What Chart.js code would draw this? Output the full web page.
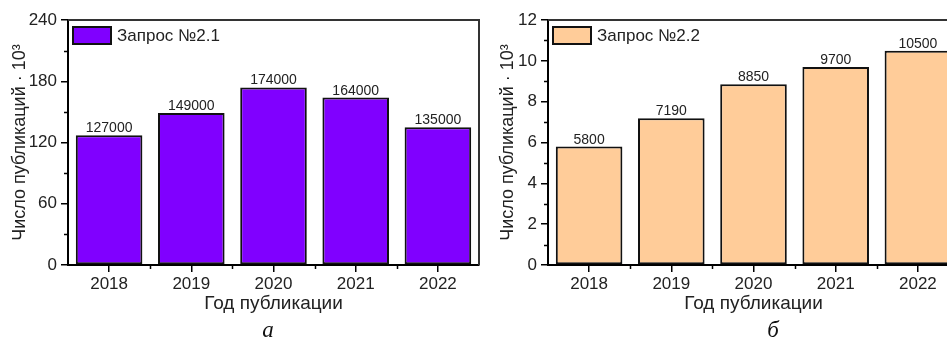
<!DOCTYPE html>
<html>
<head>
<meta charset="utf-8">
<script src="https://cdn.jsdelivr.net/npm/chart.js@4.4.0/dist/chart.umd.min.js"></script>
<style>
    html, body { margin: 0; padding: 0; background: #fff; overflow: hidden; width: 947px; height: 345px; }
    .panel { position: absolute; top: 0; width: 490px; height: 345px; }
    #panel_a { left: 0; }
    #panel_b { left: 480px; }
</style>
</head>
<body>
<div class="panel" id="panel_a"><canvas id="chart_a" width="490" height="345"></canvas></div>
<div class="panel" id="panel_b"><canvas id="chart_b" width="490" height="345"></canvas></div>
<script>
// data
const years = ["2018", "2019", "2020", "2021", "2022"];
const pubs_query21 = [127000, 149000, 174000, 164000, 135000];
const pubs_query22 = [5800, 7190, 8850, 9700, 10500];
const y_ticks_21 = [0, 60, 120, 180, 240];
const y_ticks_22 = [0, 2, 4, 6, 8, 10, 12];

const font_family = "Arial, 'Liberation Sans', sans-serif";
const text_color = "#222";

// frame, minor ticks, legend, value labels, panel letter
const decor_plugin = {
    id: "decor",
    afterDatasetsDraw(chart, args, opts) {
        const ctx = chart.ctx;
        const meta = chart.getDatasetMeta(0);
        ctx.save();
        ctx.fillStyle = text_color;
        ctx.font = "14px " + font_family;
        ctx.textAlign = "center";
        ctx.textBaseline = "alphabetic";
        meta.data.forEach(function (bar, i) {
            ctx.fillText(String(opts.labels[i]), bar.x, bar.y - 3);
        });
        ctx.restore();
    },
    afterDraw(chart, args, opts) {
        const ctx = chart.ctx;
        const area = chart.chartArea;
        const xs = chart.scales.x;
        const ys = chart.scales.y;
        ctx.save();

        // top and right frame
        ctx.strokeStyle = "#333";
        ctx.lineWidth = 2;
        ctx.beginPath();
        ctx.moveTo(area.left, area.top);
        ctx.lineTo(area.right, area.top);
        ctx.lineTo(area.right, area.bottom);
        ctx.stroke();

        // minor ticks
        ctx.strokeStyle = "#000";
        ctx.lineWidth = 1.5;
        ctx.beginPath();
        const tv = opts.ticks;
        for (let i = 0; i < tv.length - 1; i++) {
            const y = Math.round(ys.getPixelForValue((tv[i] + tv[i + 1]) / 2)) + 0.5;
            ctx.moveTo(area.left - 4, y);
            ctx.lineTo(area.left, y);
        }
        for (let i = 0; i < years.length - 1; i++) {
            const x = Math.round((xs.getPixelForTick(i) + xs.getPixelForTick(i + 1)) / 2) + 0.5;
            ctx.moveTo(x, area.bottom);
            ctx.lineTo(x, area.bottom + 4);
        }
        ctx.stroke();

        // legend inside plot
        const ds = chart.data.datasets[0];
        ctx.fillStyle = ds.backgroundColor;
        ctx.strokeStyle = "#111";
        ctx.lineWidth = 2;
        ctx.fillRect(area.left + 5, 27, 38, 17);
        ctx.strokeRect(area.left + 5, 27, 38, 17);
        ctx.fillStyle = text_color;
        ctx.font = "17px " + font_family;
        ctx.textAlign = "left";
        ctx.textBaseline = "middle";
        ctx.fillText(ds.label, area.left + 49, 36);

        // panel letter
        ctx.font = "italic 23px 'Liberation Serif', 'Times New Roman', serif";
        ctx.textAlign = "center";
        ctx.textBaseline = "alphabetic";
        ctx.fillStyle = "#111";
        ctx.fillText(opts.letter, opts.letter_x, 337);
        ctx.restore();
    }
};

function make_chart(canvas_id, label, color, counts, y_ticks, letter, letter_x, title_pad) {
    const y_max = y_ticks[y_ticks.length - 1];
    const step = y_ticks[1] - y_ticks[0];
    return new Chart(document.getElementById(canvas_id), {
        type: "bar",
        data: {
            labels: years,
            datasets: [{
                label: label,
                data: counts.map(function (v) { return v / 1000; }),
                backgroundColor: color,
                borderColor: "#111",
                borderWidth: 2,
                borderSkipped: false,
                barPercentage: 0.81,
                categoryPercentage: 1.0
            }]
        },
        options: {
            responsive: false,
            animation: false,
            layout: { padding: { left: 0, right: 11, top: 20, bottom: 30 } },
            plugins: {
                legend: { display: false },
                tooltip: { enabled: false },
                decor: { labels: counts, ticks: y_ticks, letter: letter, letter_x: letter_x }
            },
            scales: {
                x: {
                    offset: true,
                    afterFit: function (s) { s.height = 50; },
                    grid: { offset: false, drawOnChartArea: false, drawTicks: true, tickLength: 7, color: "#000", lineWidth: 1.5 },
                    border: { display: true, color: "#000", width: 2 },
                    ticks: { color: text_color, padding: 2, font: { family: font_family, size: 17 } },
                    title: { display: true, text: "Год публикации", color: text_color, padding: { top: 0, bottom: 0 }, font: { family: font_family, size: 19 } }
                },
                y: {
                    min: 0,
                    max: y_max,
                    afterFit: function (s) { s.width = 68; },
                    grid: { drawOnChartArea: false, drawTicks: true, tickLength: 7, color: "#000", lineWidth: 1.5 },
                    border: { display: true, color: "#000", width: 2 },
                    ticks: { stepSize: step, color: text_color, padding: 4, font: { family: font_family, size: 17 } },
                    title: { display: true, text: "Число публикаций · 10³", color: text_color, padding: { top: title_pad, bottom: 0 }, font: { family: font_family, size: 18 } }
                }
            }
        },
        plugins: [decor_plugin]
    });
}

make_chart("chart_a", "Запрос №2.1", "#8000ff", pubs_query21, y_ticks_21, "а", 268, 9);
make_chart("chart_b", "Запрос №2.2", "#ffcc99", pubs_query22, y_ticks_22, "б", 293, 17);
</script>
</body>
</html>
